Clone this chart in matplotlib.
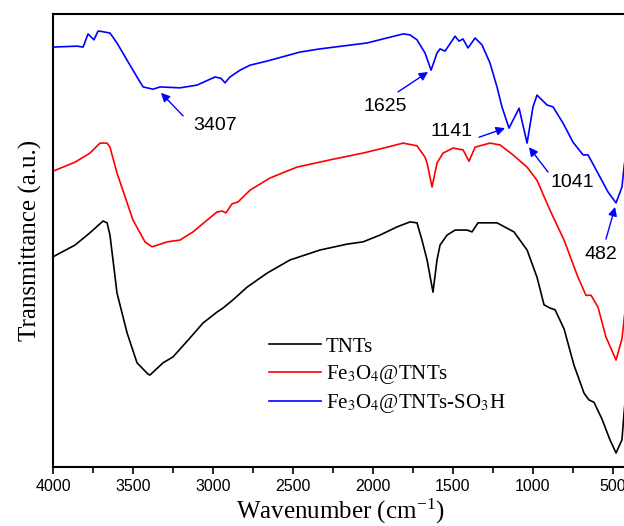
import numpy as np
import matplotlib
matplotlib.use("Agg")
from matplotlib import pyplot as plt
from matplotlib.ticker import MultipleLocator

# ---- data (transmittance in a.u.) ----
wn_blue = [4000, 3850, 3812, 3781, 3744, 3719, 3706, 3644, 3600, 3537, 3475, 3437,
           3375, 3331, 3206, 3100, 2987, 2950, 2925, 2894, 2831, 2769, 2663, 2456,
           2331, 2038, 1812, 1769, 1725, 1675, 1637, 1600, 1581, 1550, 1487, 1462,
           1438, 1406, 1362, 1319, 1269, 1225, 1194, 1150, 1087, 1037, 1000, 975,
           912, 875, 812, 750, 687, 656, 581, 531, 481, 444, 431, 400]
t_blue = [92.7, 92.9, 92.7, 95.6, 94.3, 96.2, 96.2, 95.8, 93.6, 89.8, 86.1, 83.9,
          83.4, 83.9, 83.7, 84.3, 86.1, 85.8, 84.8, 86.1, 87.6, 88.7, 89.6, 91.6,
          92.3, 93.6, 95.6, 95.4, 94.3, 91.4, 87.6, 91.4, 92.3, 91.8, 95.1, 94.0,
          94.5, 92.5, 94.7, 93.2, 89.2, 83.9, 79.5, 74.8, 79.2, 71.5, 79.5, 82.1,
          79.9, 79.5, 75.9, 71.7, 68.9, 68.9, 64.0, 60.7, 58.3, 61.8, 66.2, 74.4]

wn_red = [4000, 3862, 3769, 3706, 3662, 3644, 3600, 3500, 3425, 3381, 3287, 3206,
          3125, 3037, 2975, 2944, 2919, 2881, 2844, 2769, 2644, 2475, 2269, 2062,
          1912, 1812, 1725, 1675, 1662, 1631, 1600, 1562, 1500, 1437, 1400, 1362,
          1269, 1206, 1125, 1037, 975, 894, 806, 719, 669, 637, 594, 544, 481, 444,
          431, 400]
t_red = [65.3, 67.3, 69.3, 71.5, 71.5, 70.6, 64.9, 54.5, 49.7, 48.6, 49.7, 50.1,
         51.9, 54.5, 56.3, 56.5, 56.1, 58.1, 58.5, 61.1, 63.8, 66.2, 67.8, 69.3,
         70.6, 71.5, 70.9, 68.4, 67.1, 61.8, 67.1, 69.3, 70.4, 70.0, 67.5, 70.6,
         71.5, 71.1, 68.9, 66.2, 63.3, 56.7, 50.1, 41.9, 37.9, 37.9, 35.3, 28.7,
         23.6, 28.3, 32.5, 42.0]

wn_black = [4000, 3862, 3769, 3687, 3662, 3644, 3625, 3600, 3537, 3475, 3406, 3394,
            3312, 3250, 3156, 3062, 2975, 2937, 2875, 2787, 2662, 2519, 2331, 2162,
            2062, 1956, 1850, 1769, 1725, 1694, 1662, 1625, 1600, 1581, 1537, 1487,
            1412, 1381, 1344, 1225, 1119, 1037, 975, 931, 894, 862, 806, 744, 681,
            650, 619, 569, 519, 481, 444, 431, 400]
t_black = [46.4, 49.0, 51.7, 54.3, 53.9, 51.2, 45.7, 38.4, 29.6, 23.0, 20.5, 20.3,
           23.0, 24.3, 28.0, 31.8, 34.2, 35.1, 36.9, 39.7, 42.8, 45.7, 47.9, 49.2,
           49.7, 51.2, 53.0, 54.1, 53.9, 50.1, 45.7, 38.6, 45.7, 49.0, 51.2, 52.3,
           52.3, 51.9, 53.9, 53.9, 51.9, 47.9, 41.9, 35.8, 35.1, 34.7, 30.5, 22.5,
           16.3, 14.8, 14.3, 10.6, 6.0, 3.1, 6.0, 11.9, 24.0]

series_labels = ["TNTs", r"Fe$_3$O$_4$@TNTs", r"Fe$_3$O$_4$@TNTs-SO$_3$H"]
series_colors = ["black", "red", "blue"]

# peak annotations on the blue spectrum
peak_labels = ["3407", "1625", "1141", "1041", "482"]
peak_tips = [(3325, 82.6), (1656, 87.2), (1175, 74.8), (1025, 70.6), (487, 57.4)]
peak_tails = [(3187, 77.5), (1844, 82.8), (1337, 72.8), (906, 65.1), (544, 50.3)]
peak_text = [(2987, 75.3), (1925, 79.5), (1506, 74.0), (756, 62.7), (575, 46.8)]

plt.rcParams['mathtext.fontset'] = 'stix'

fig = plt.figure(figsize=(6.24, 5.26), dpi=100)
ax = fig.add_axes([53/624, 59/526, 576/624, 453/526])

ax.plot(wn_black, t_black, color=series_colors[0], lw=1.2, label=series_labels[0])
ax.plot(wn_red, t_red, color=series_colors[1], lw=1.2, label=series_labels[1])
ax.plot(wn_blue, t_blue, color=series_colors[2], lw=1.2, label=series_labels[2])

for lab, tip, tail, txt in zip(peak_labels, peak_tips, peak_tails, peak_text):
    ax.annotate("", xy=tip, xytext=tail,
                arrowprops=dict(arrowstyle="-|>", color="blue", lw=1,
                                mutation_scale=13, shrinkA=0, shrinkB=0))
    ax.text(txt[0], txt[1], lab, fontsize=14, family="Liberation Sans",
            ha="center", va="center")

ax.set_xlim(4000, 400)
ax.set_ylim(0, 100)
ax.xaxis.set_major_locator(MultipleLocator(500))
ax.xaxis.set_minor_locator(MultipleLocator(250))
ax.set_yticks([])
ax.tick_params(axis='x', which='major', direction='out', length=5, width=1.2,
               labelsize=11.5)
ax.tick_params(axis='x', which='minor', direction='out', length=4, width=1.2)
for lbl in ax.get_xticklabels():
    lbl.set_family("Liberation Sans")
for s in ax.spines.values():
    s.set_linewidth(1.5)

ax.set_xlabel(r"Wavenumber (cm$^{\mathregular{-1}}$)", family="Liberation Serif",
              fontsize=18, labelpad=2)
ax.set_ylabel("Transmittance (a.u.)", family="Liberation Serif", fontsize=18,
              labelpad=8)

ax.legend(loc="upper left", bbox_to_anchor=(0.36, 0.305), frameon=False,
          prop={"family": "Liberation Serif", "size": 15}, handlelength=2.5,
          handletextpad=0.25, labelspacing=0.3, borderaxespad=0)

fig.savefig("out.png", dpi=100)
